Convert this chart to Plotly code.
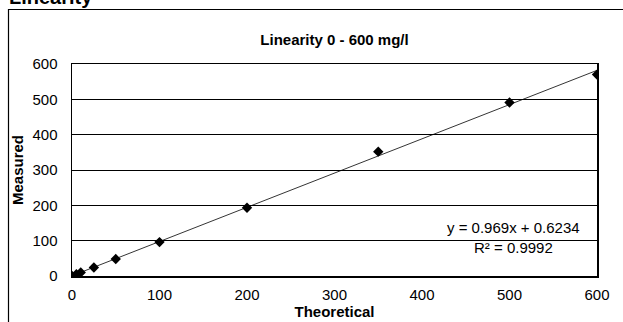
import plotly.graph_objects as go

theoretical = [0, 5, 10, 25, 50, 100, 200, 350, 500, 600]
measured = [0, 5, 10, 24, 48, 96, 193, 352, 491, 570]
slope = 0.969
intercept = 0.6234
r_squared = 0.9992
tick_vals = [0, 100, 200, 300, 400, 500, 600]

W, H = 623, 322
L, R, T, B = 72, 26, 64, 46
pw, ph = W - L - R, H - T - B

def px(x):
    return (x - L) / pw

def py(y):
    return (H - B - y) / ph

font = "Liberation Sans, Arial, sans-serif"

fig = go.Figure()
fit_x = [0, 600]
fit_y = [slope * v + intercept for v in fit_x]
fig.add_trace(go.Scatter(x=fit_x, y=fit_y, mode="lines",
                         line=dict(color="black", width=0.8), hoverinfo="skip"))
fig.add_trace(go.Scatter(x=theoretical, y=measured, mode="markers",
                         marker=dict(symbol="diamond", size=8, color="black")))

fig.update_layout(
    width=W, height=H, autosize=False,
    margin=dict(l=L, r=R, t=T, b=B, autoexpand=False),
    paper_bgcolor="white", plot_bgcolor="white",
    showlegend=False,
    font=dict(family=font, size=15, color="black"),
    title=dict(text="<b>Linearity 0 - 600 mg/l</b>", x=0.5, xref="paper",
               xanchor="center", y=1 - 40 / H, yanchor="middle",
               font=dict(size=15, family=font), automargin=False),
    xaxis=dict(range=[0, 600], tickvals=tick_vals, showgrid=False, zeroline=False,
               showline=True, linecolor="black", linewidth=1.5, mirror=True,
               ticks="", automargin=False, ticklabelstandoff=4,
               title=dict(text="<b>Theoretical</b>", standoff=2,
                          font=dict(size=15))),
    yaxis=dict(range=[0, 600], tickvals=tick_vals, showgrid=True, gridcolor="black",
               gridwidth=1, zeroline=False, showline=True, linecolor="black",
               linewidth=1.5, mirror=True, ticks="", automargin=False,
               ticklabelstandoff=10,
               title=dict(text="<b>Measured</b>", standoff=5, font=dict(size=15))),
    annotations=[
        dict(text=f"y = {slope}x + {intercept}", x=504, y=138, xref="x", yref="y",
             showarrow=False, font=dict(size=15)),
        dict(text=f"R² = {r_squared}", x=504, y=82, xref="x", yref="y",
             showarrow=False, font=dict(size=15)),
        dict(text="<b>Linearity</b>", x=px(7), y=py(10), xref="paper", yref="paper",
             xanchor="left", yanchor="bottom", showarrow=False, font=dict(size=20)),
    ],
    shapes=[
        dict(type="rect", xref="paper", yref="paper", x0=px(8.5), x1=px(640),
             y0=py(340), y1=py(9.5), line=dict(color="black", width=1.2),
             fillcolor="rgba(0,0,0,0)", layer="below"),
    ],
)

fig.write_html("out.html", config={"displayModeBar": False, "staticPlot": True},
               post_script="document.body.style.margin='0';document.body.style.overflow='hidden';")
